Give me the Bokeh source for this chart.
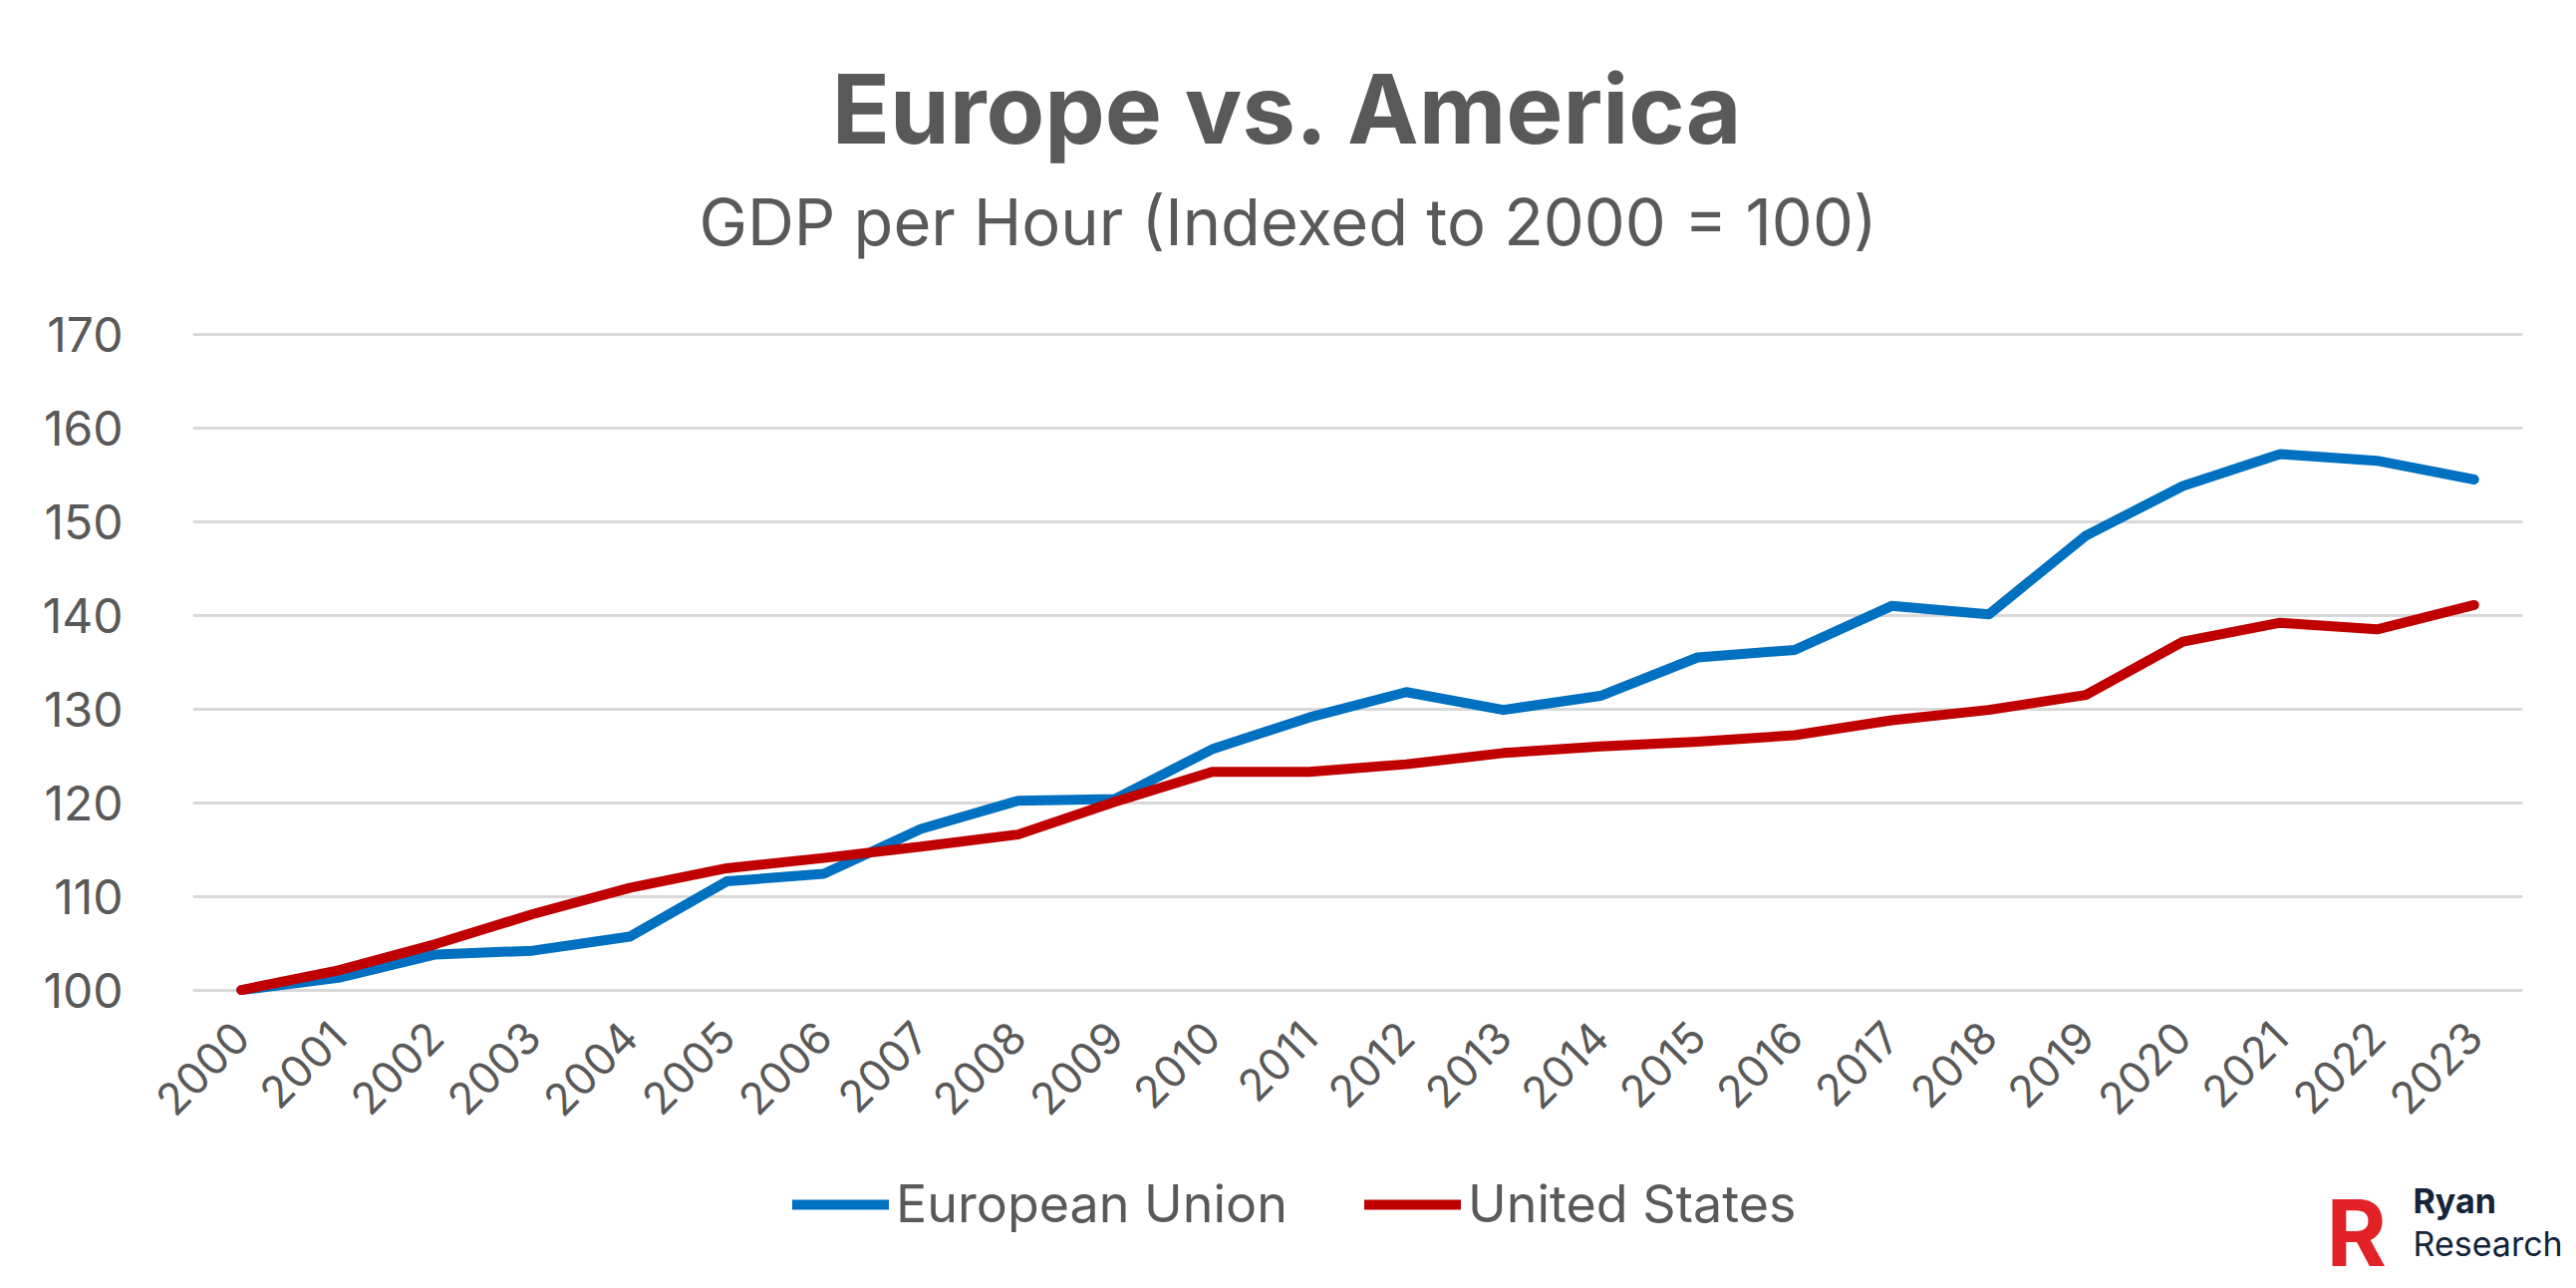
import math

from bokeh.embed import file_html
from bokeh.layouts import column
from bokeh.models import FixedTicker, Label, Legend, LegendItem, Range1d
from bokeh.plotting import figure
from bokeh.resources import INLINE

# data
years = list(range(2000, 2024))
eu = [100.0, 101.3, 103.8, 104.2, 105.7, 111.6, 112.4, 117.2, 120.2, 120.4,
      125.7, 129.1, 131.8, 129.9, 131.4, 135.5, 136.3, 141.0, 140.1, 148.5,
      153.8, 157.2, 156.5, 154.5]
us = [100.0, 102.1, 104.9, 108.1, 110.9, 113.0, 114.1, 115.3, 116.6, 120.1,
      123.3, 123.3, 124.1, 125.3, 126.0, 126.5, 127.2, 128.8, 129.9, 131.5,
      137.2, 139.2, 138.5, 141.1]
y_ticks = [100, 110, 120, 130, 140, 150, 160, 170]

title_text = "Europe vs. America"
subtitle_text = "GDP per Hour (Indexed to 2000 = 100)"
series_names = ["European Union", "United States"]

FONT = "Inter"
GREY = "#595959"
BLUE = "#0070C0"
RED = "#C00000"
NAVY = "#14243A"
W = 2585
TOP_H, MAIN_H, BOT_H = 302, 840, 150


def blank(h):
    # a strip whose frame is the whole canvas, data units = pixels
    f = figure(width=W, height=h, output_backend="svg", toolbar_location=None,
               x_range=Range1d(0, W), y_range=Range1d(0, h),
               x_axis_type=None, y_axis_type=None, frame_align=False,
               min_border=0, min_border_left=0, min_border_right=0,
               min_border_top=0, min_border_bottom=0)
    f.grid.visible = False
    f.outline_line_color = None
    return f


# titles
top = blank(TOP_H)
top.add_layout(Label(x=1292, y=194, text=title_text, text_align="center",
                     text_baseline="alphabetic", text_font=FONT,
                     text_font_style="bold", text_font_size="96px",
                     text_color=GREY))
top.add_layout(Label(x=1292, y=80, text=subtitle_text, text_align="center",
                     text_baseline="alphabetic", text_font=FONT,
                     text_font_size="65px", text_color=GREY))

# main chart
p = figure(width=W, height=MAIN_H, output_backend="svg", toolbar_location=None,
           x_range=Range1d(1999.5, 2023.5), y_range=Range1d(99, 170.3),
           min_border_left=193, min_border_right=54,
           min_border_top=30, min_border_bottom=140)
p.outline_line_color = None
p.xgrid.visible = False
p.ygrid.ticker = FixedTicker(ticks=y_ticks)
p.ygrid.grid_line_color = "#D9D9D9"
p.ygrid.grid_line_width = 3
p.yaxis.ticker = FixedTicker(ticks=y_ticks)
p.xaxis.ticker = FixedTicker(ticks=years)
for ax in (p.xaxis, p.yaxis):
    ax.axis_line_color = None
    ax.major_tick_line_color = None
    ax.minor_tick_line_color = None
    ax.major_label_text_color = GREY
    ax.major_label_text_font = FONT
p.yaxis.major_label_text_font_size = "48px"
p.yaxis.major_label_standoff = 64
p.xaxis.major_label_text_font_size = "44px"
p.xaxis.major_label_orientation = math.pi / 4
p.xaxis.major_label_standoff = 24

p.line(years, eu, line_color=BLUE, line_width=10, line_join="round", line_cap="round")
p.line(years, us, line_color=RED, line_width=10, line_join="round", line_cap="round")

# legend and logo strip; the series are drawn here on an off-screen range
# only so that the legend has glyphs to show
bot = blank(BOT_H)
bot.extra_y_ranges = {"off": Range1d(0, 1)}
k_eu = bot.line(years, eu, line_color=BLUE, line_width=10, line_cap="round",
                y_range_name="off")
k_us = bot.line(years, us, line_color=RED, line_width=10, line_cap="round",
                y_range_name="off")
legend = Legend(items=[LegendItem(label=series_names[0], renderers=[k_eu]),
                       LegendItem(label=series_names[1], renderers=[k_us])],
                orientation="horizontal", location=(795, 53),
                glyph_width=97, glyph_height=20, label_standoff=7, spacing=77,
                padding=0, margin=0, border_line_color=None,
                background_fill_alpha=0,
                label_text_font=FONT, label_text_font_size="52px",
                label_text_color=GREY)
bot.add_layout(legend)

bot.add_layout(Label(x=2334, y=56, text="R", text_baseline="alphabetic",
                     text_font=FONT, text_font_style="bold", text_font_size="92px",
                     text_color="#E32228"))
bot.add_layout(Label(x=2421, y=88, text="Ryan", text_baseline="alphabetic",
                     text_font=FONT, text_font_style="bold", text_font_size="34px",
                     text_color=NAVY))
bot.add_layout(Label(x=2421, y=45, text="Research", text_baseline="alphabetic",
                     text_font=FONT, text_font_size="34px", text_color=NAVY))

page = column(top, p, bot, spacing=0)
open("out.html", "w").write(file_html(page, INLINE))
